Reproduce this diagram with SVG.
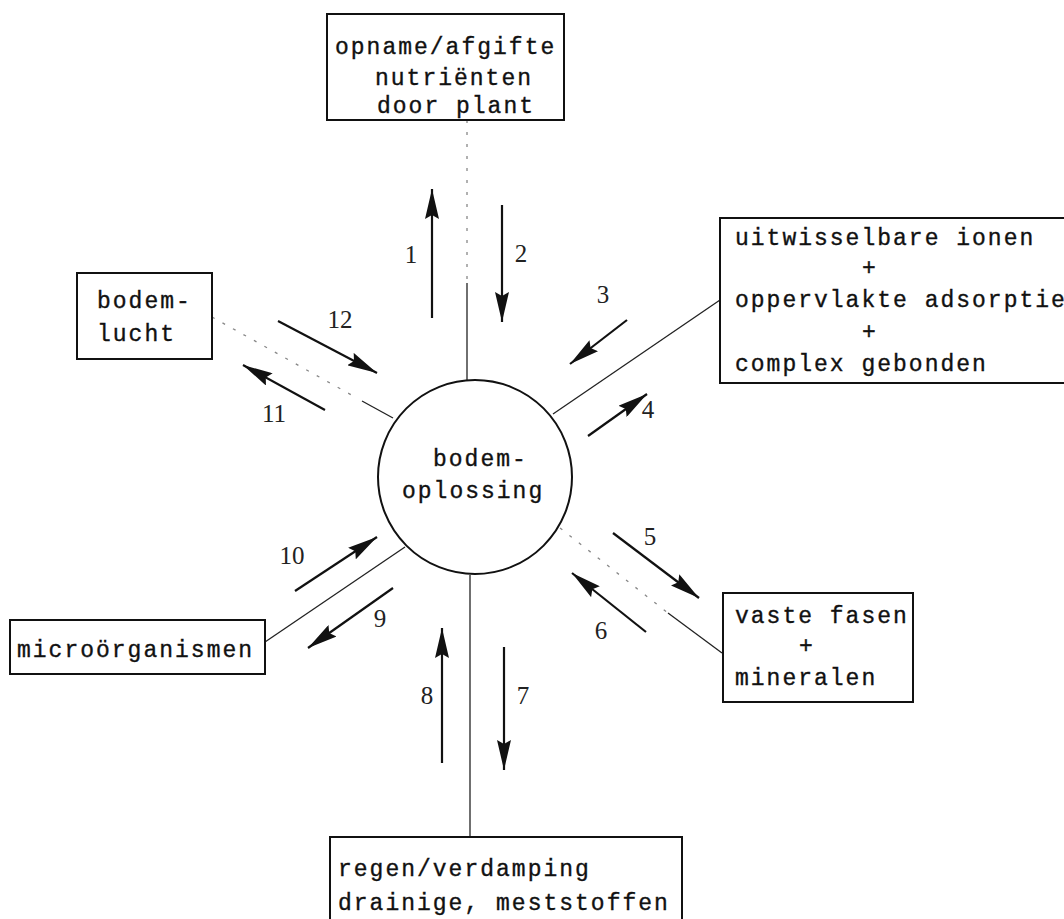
<svg xmlns="http://www.w3.org/2000/svg" width="1064" height="919" viewBox="0 0 1064 919">
<style>
.box{fill:none;stroke:#111;stroke-width:2}
.t{font-family:"Liberation Mono","DejaVu Sans Mono",monospace;font-size:23px;letter-spacing:2px;fill:#111;stroke:#111;stroke-width:0.35}
.n{font-family:"Liberation Serif","DejaVu Serif",serif;font-size:25px;fill:#222;text-anchor:middle}
.c{stroke:#222;stroke-width:1.3;fill:none}
.d{stroke:#888;stroke-width:1.3;fill:none;stroke-dasharray:3 9}
.a{stroke:#111;stroke-width:2.2;fill:none;marker-end:url(#ah)}
</style>
<defs>
<marker id="ah" markerUnits="userSpaceOnUse" markerWidth="32" markerHeight="14" refX="30" refY="7" orient="auto">
<path d="M0,0 L30,7 L0,14 L4,7 z" fill="#111"/>
</marker>
</defs>
<rect width="1064" height="919" fill="#fff"/>

<g id="connectors">
<line class="d" x1="467" y1="120" x2="467" y2="283"/>
<line class="c" x1="467" y1="283" x2="467" y2="380"/>
<line class="c" x1="553" y1="414" x2="720" y2="300"/>
<line class="d" x1="212" y1="317" x2="355" y2="397"/>
<line class="c" x1="362" y1="401" x2="393" y2="418"/>
<line class="c" x1="265" y1="642" x2="405" y2="547"/>
<line class="d" x1="560" y1="528" x2="668" y2="613"/>
<line class="c" x1="668" y1="613" x2="722" y2="653"/>
<line class="c" x1="470" y1="575" x2="470" y2="837" stroke="#555"/>

<line class="a" x1="432" y1="318" x2="432" y2="189"/>
<line class="a" x1="502" y1="205" x2="502" y2="322"/>
<line class="a" x1="627" y1="320" x2="570" y2="364"/>
<line class="a" x1="588" y1="436" x2="647" y2="394"/>
<line class="a" x1="613" y1="533" x2="699" y2="598"/>
<line class="a" x1="646" y1="632" x2="572" y2="573"/>
<line class="a" x1="504" y1="647" x2="504" y2="770"/>
<line class="a" x1="442" y1="763" x2="442" y2="628"/>
<line class="a" x1="393" y1="588" x2="308" y2="648"/>
<line class="a" x1="295" y1="591" x2="377" y2="537"/>
<line class="a" x1="325" y1="410" x2="243" y2="365"/>
<line class="a" x1="278" y1="321" x2="377" y2="373"/>

<text class="n" x="411" y="263">1</text>
<text class="n" x="521" y="262">2</text>
<text class="n" x="603" y="303">3</text>
<text class="n" x="648" y="418">4</text>
<text class="n" x="650" y="545">5</text>
<text class="n" x="601" y="639">6</text>
<text class="n" x="523" y="704">7</text>
<text class="n" x="427" y="704">8</text>
<text class="n" x="380" y="627">9</text>
<text class="n" x="292" y="564">10</text>
<text class="n" x="274" y="422">11</text>
<text class="n" x="340" y="328">12</text>
</g>

<g id="plant">
<rect class="box" x="327" y="14" width="237" height="106"/>
<text class="t" x="335" y="54">opname/afgifte</text>
<text class="t" x="375" y="85">nutriënten</text>
<text class="t" x="377" y="113">door plant</text>
</g>

<g id="ionen">
<rect class="box" x="720" y="218" width="360" height="165"/>
<text class="t" x="735" y="245">uitwisselbare ionen</text>
<text class="t" x="870" y="275" text-anchor="middle">+</text>
<text class="t" x="735" y="307">oppervlakte adsorptie</text>
<text class="t" x="870" y="339" text-anchor="middle">+</text>
<text class="t" x="735" y="371">complex gebonden</text>
</g>

<g id="bodemlucht">
<rect class="box" x="77" y="273" width="135" height="86"/>
<text class="t" x="97" y="308">bodem-</text>
<text class="t" x="97" y="341">lucht</text>
</g>

<g id="bodemoplossing">
<circle cx="475" cy="477" r="97" fill="none" stroke="#111" stroke-width="2"/>
<text class="t" x="433" y="466">bodem-</text>
<text class="t" x="402" y="498">oplossing</text>
</g>

<g id="micro">
<rect class="box" x="10" y="620" width="255" height="54"/>
<text class="t" x="17" y="657">microörganismen</text>
</g>

<g id="vaste">
<rect class="box" x="723" y="593" width="190" height="109"/>
<text class="t" x="735" y="623">vaste fasen</text>
<text class="t" x="807" y="653" text-anchor="middle">+</text>
<text class="t" x="735" y="685">mineralen</text>
</g>

<g id="regen">
<rect class="box" x="330" y="837" width="352" height="100"/>
<text class="t" x="338" y="876">regen/verdamping</text>
<text class="t" x="338" y="910">drainige, meststoffen</text>
</g>
</svg>
